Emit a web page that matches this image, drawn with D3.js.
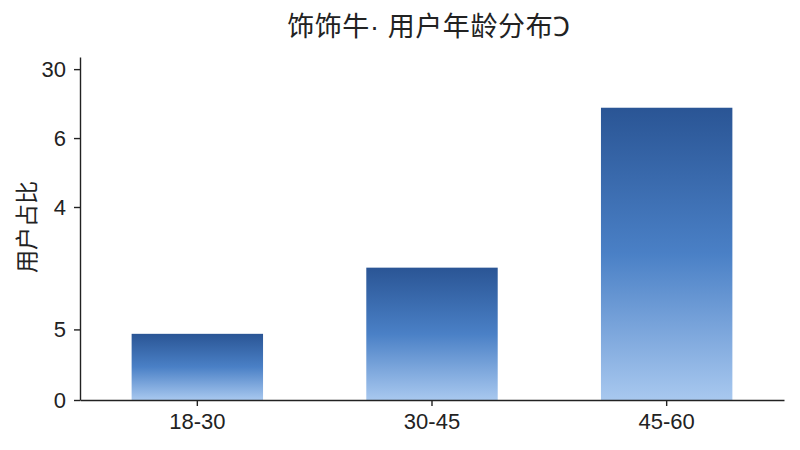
<!DOCTYPE html>
<html><head><meta charset="utf-8">
<script src="https://cdn.jsdelivr.net/npm/d3@7"></script>
<style>body{margin:0;background:#fff}</style>
</head><body>
<svg id="c" width="800" height="450"></svg>
<script>
const categories = ["18-30", "30-45", "45-60"];
const values = [6.0, 12.0, 26.5];
const tickValues = [0, 6.4, 17.5, 23.75, 30];
const tickLabels = ["0", "5", "4", "6", "30"];
const titleText = "饰饰牛· 用户年龄分布Ↄ";
const yTitle = "用户占比";

const svg = d3.select("#c");
const font = "'Liberation Sans','Noto Sans CJK SC',sans-serif";
const cjk = "'Noto Sans CJK SC','Liberation Sans',sans-serif";
const x = d3.scaleBand().domain(categories).range([80, 784]).paddingInner(0.44).paddingOuter(0.22);
const y = d3.scaleLinear().domain([0, 31.1]).range([400, 57]);

const defs = svg.append("defs");
const g = defs.append("linearGradient").attr("id","grad").attr("x1",0).attr("y1",0).attr("x2",0).attr("y2",1);
g.append("stop").attr("offset","0%").attr("stop-color","#2a5595");
g.append("stop").attr("offset","50%").attr("stop-color","#4a80c6");
g.append("stop").attr("offset","100%").attr("stop-color","#a8c8ef");

svg.append("g").selectAll("rect").data(values).join("rect")
  .attr("x",(d,i)=>x(categories[i])).attr("width",x.bandwidth())
  .attr("y",d=>y(d)).attr("height",d=>y(0)-y(d))
  .attr("fill","url(#grad)");

const xa = svg.append("g").attr("transform","translate(0,400)")
  .call(d3.axisBottom(x).tickSize(6).tickSizeOuter(0));
xa.selectAll("text").attr("font-size",22).attr("font-family",font).attr("fill","#222").attr("dy","0.9em");
const ya = svg.append("g").attr("transform","translate(80,0)")
  .call(d3.axisLeft(y).tickValues(tickValues).tickFormat((d,i)=>tickLabels[i]).tickSize(6).tickSizeOuter(0));
ya.selectAll("text").attr("font-size",22).attr("font-family",font).attr("fill","#222").attr("x",-14);
svg.selectAll(".domain, .tick line").attr("stroke","#222").attr("stroke-width",1.4);

svg.append("text").attr("x",429).attr("y",36).attr("text-anchor","middle")
  .attr("font-size",27).attr("letter-spacing",0.6).attr("font-family",font).attr("fill","#222").text(titleText);
svg.append("text").attr("transform","translate(35,227) rotate(-90)").attr("text-anchor","middle")
  .attr("font-size",23).attr("font-family",cjk).attr("fill","#222").text(yTitle);
</script>
</body></html>
